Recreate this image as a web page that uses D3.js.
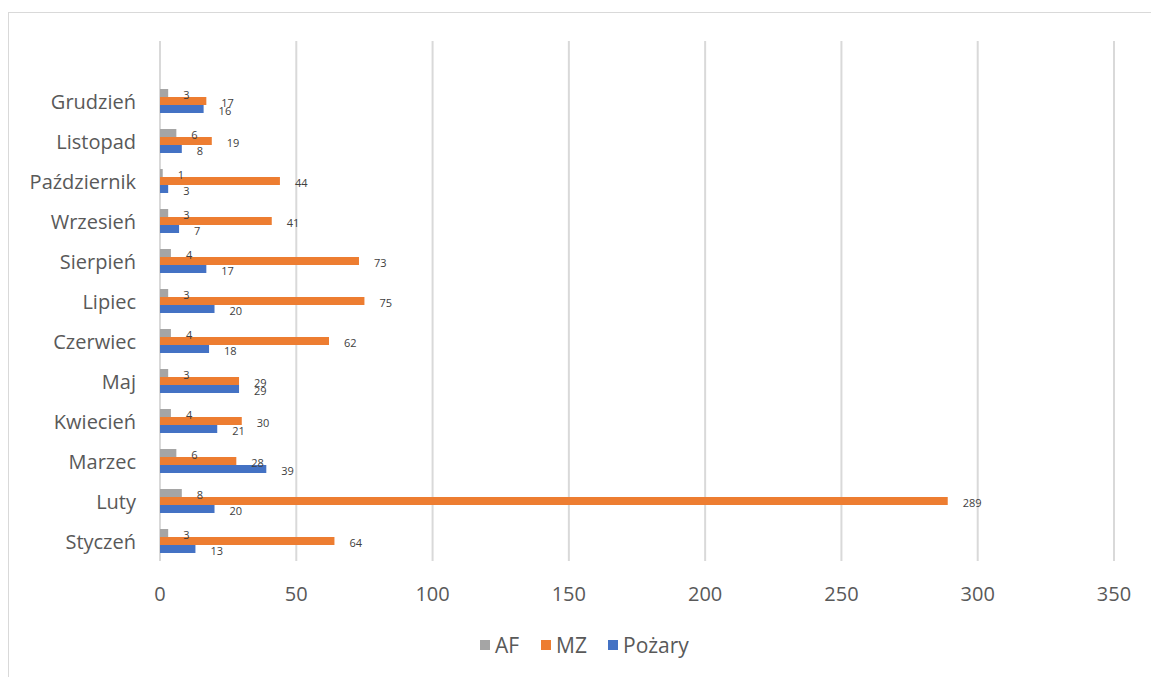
<!DOCTYPE html>
<html>
<head>
<meta charset="utf-8">
<script src="https://cdn.jsdelivr.net/npm/d3@7"></script>
<style>
  html, body { margin: 0; padding: 0; background: #ffffff; }
  svg { display: block; font-family: "Open Sans", "Noto Sans", sans-serif; }
</style>
</head>
<body>
<svg id="chart" width="1151" height="677"></svg>
<script>
// ---- data ----
const months = ["Styczeń", "Luty", "Marzec", "Kwiecień", "Maj", "Czerwiec", "Lipiec", "Sierpień", "Wrzesień", "Październik", "Listopad", "Grudzień"];
const seriesNames = ["AF", "MZ", "Pożary"];
const afValues = [3, 8, 6, 4, 3, 4, 3, 4, 3, 1, 6, 3];
const mzValues = [64, 289, 28, 30, 29, 62, 75, 73, 41, 44, 19, 17];
const pozaryValues = [13, 20, 39, 21, 29, 18, 20, 17, 7, 3, 8, 16];
const xTicks = [0, 50, 100, 150, 200, 250, 300, 350];
const colors = ["#A5A5A5", "#ED7D31", "#4472C4"];

const seriesValues = [afValues, mzValues, pozaryValues];

const svg = d3.select("#chart");
const W = 1151, H = 677;

// frame
svg.append("line").attr("x1", 8).attr("x2", W).attr("y1", 12.5).attr("y2", 12.5)
  .attr("stroke", "#d9d9d9").attr("stroke-width", 1);
svg.append("line").attr("x1", 8.5).attr("x2", 8.5).attr("y1", 12).attr("y2", H)
  .attr("stroke", "#d9d9d9").attr("stroke-width", 1);

const plot = { left: 160, right: 1114, top: 41, bottom: 561 };

const x = d3.scaleLinear().domain([0, 350]).range([plot.left, plot.right]);
// an empty slot sits above the last month, as in the source chart
const yDomain = [""].concat(months.slice().reverse());
const y = d3.scaleBand().domain(yDomain).range([plot.top, plot.bottom]).padding(0);
const inner = d3.scaleBand().domain(seriesNames).range([8, 32]).padding(0);

// gridlines
svg.append("g").selectAll("line").data(xTicks).join("line")
  .attr("x1", d => x(d)).attr("x2", d => x(d))
  .attr("y1", plot.top).attr("y2", plot.bottom)
  .attr("stroke", "#d9d9d9").attr("stroke-width", 2);

// x tick labels
svg.append("g").selectAll("text").data(xTicks).join("text")
  .attr("x", d => x(d)).attr("y", 593)
  .attr("text-anchor", "middle").attr("dominant-baseline", "central")
  .attr("font-size", 20).attr("fill", "#595959")
  .text(d => d);

// category labels
svg.append("g").selectAll("text").data(months).join("text")
  .attr("x", 136).attr("y", d => y(d) + y.bandwidth() / 2)
  .attr("text-anchor", "end").attr("dominant-baseline", "central")
  .attr("font-size", 20).attr("fill", "#595959")
  .text(d => d);

// bars + labels
const rows = [];
seriesNames.forEach((s, si) => {
  months.forEach((m, mi) => rows.push({ s, si, m, v: seriesValues[si][mi] }));
});

svg.append("g").selectAll("rect").data(rows).join("rect")
  .attr("x", x(0))
  .attr("y", d => y(d.m) + inner(d.s))
  .attr("width", d => x(d.v) - x(0))
  .attr("height", inner.bandwidth())
  .attr("fill", d => colors[d.si]);

svg.append("g").selectAll("text").data(rows).join("text")
  .attr("x", d => x(d.v) + 15)
  .attr("y", d => y(d.m) + inner(d.s) + inner.bandwidth() / 2 + 1)
  .attr("dominant-baseline", "central")
  .attr("font-size", 11).attr("fill", "#404040")
  .text(d => d.v);

// legend
const legendX = [480, 541, 608];
const lg = svg.append("g").selectAll("g").data(seriesNames).join("g")
  .attr("transform", (d, i) => `translate(${legendX[i]},645)`);
lg.append("rect").attr("x", 0).attr("y", -5).attr("width", 10).attr("height", 10)
  .attr("fill", (d, i) => colors[i]);
lg.append("text").attr("x", 15).attr("y", 0).attr("dominant-baseline", "central")
  .attr("font-size", 21).attr("fill", "#595959").text(d => d);
</script>
</body>
</html>
